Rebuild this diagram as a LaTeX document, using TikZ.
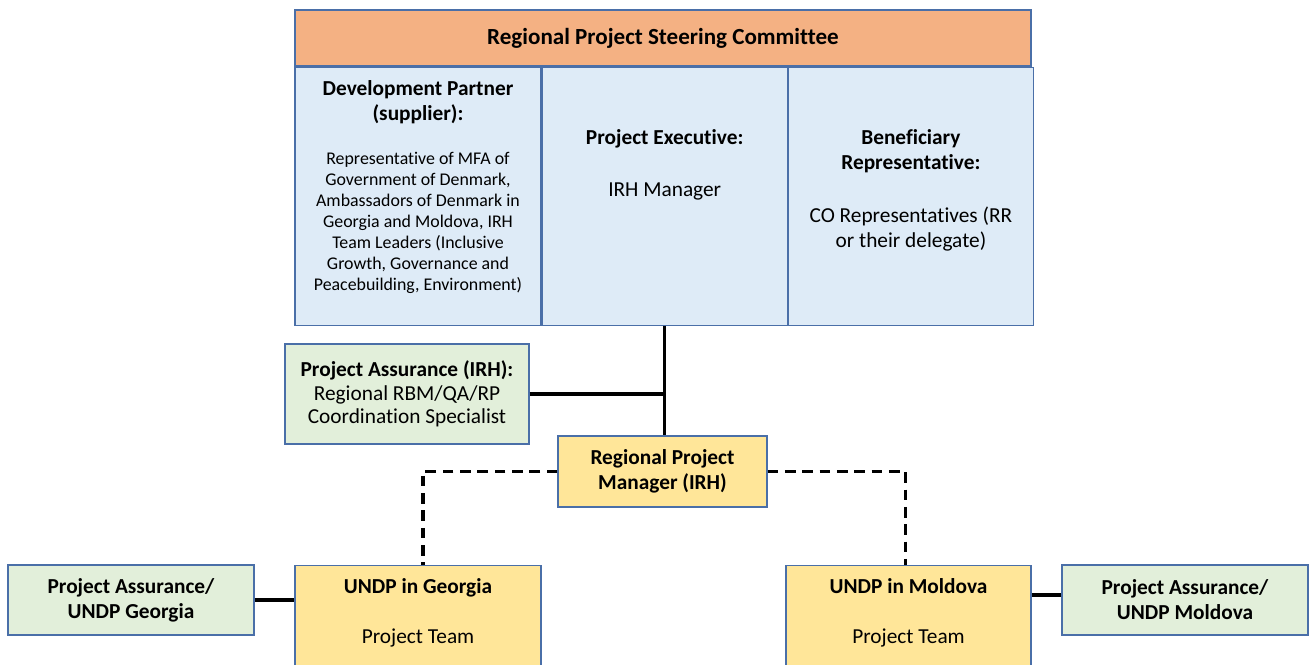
\documentclass[tikz,border=0pt]{standalone}
\usepackage{fontspec}
\setmainfont{Carlito}[Ligatures=NoCommon]
\usetikzlibrary{positioning, calc}

\definecolor{steerorange}{HTML}{F4B183}
\definecolor{cellblue}{HTML}{DEEBF7}
\definecolor{edgeblue}{HTML}{4A6FA8}
\definecolor{assurgreen}{HTML}{E2EFDA}
\definecolor{teamyellow}{HTML}{FFE699}

\newcommand{\bodyfont}{\fontsize{16}{18.75}\selectfont}
\newcommand{\notefont}{\fontsize{13.4}{15.75}\selectfont}

\begin{document}
\begin{tikzpicture}[
        x=0.75pt, y=-0.75pt,
        cell/.style={rectangle, draw=edgeblue, line width=0.9pt, inner sep=0pt},
        board/.style={cell, fill=cellblue, minimum width=183.75pt, minimum height=193.5pt, anchor=north west},
        assurance/.style={cell, fill=assurgreen, align=center, font=\bodyfont},
        office/.style={cell, fill=teamyellow, align=center, font=\bodyfont\bfseries},
        label/.style={inner sep=0pt, align=center, anchor=north, font=\bodyfont},
        link/.style={draw=black, line width=2.4pt},
        dashlink/.style={draw=black, line width=2.4pt, dash pattern=on 8pt off 5pt}
    ]
        \clip (0,0) rectangle (1309,664);

        \node[cell, fill=steerorange, minimum width=552pt, minimum height=42pt, font=\fontsize{17.3}{20}\selectfont\bfseries] (steering) at (663,38) {Regional Project Steering Committee};
        \node[board, minimum width=184.5pt] (dev) at (steering.south west) {};
        \node[board] (exec) at (dev.north east) {};
        \node[board] (ben) at (exec.north east) {};

        \node[label, font=\bodyfont\bfseries] (devhead) at ($(dev.north)+(0,14)$) {Development Partner\\(supplier):};
        \node[label, font=\notefont] (devbody) at ($(dev.north)+(0,85)$) {Representative of MFA of\\Government of Denmark,\\Ambassadors of Denmark in\\Georgia and Moldova, IRH\\Team Leaders (Inclusive\\Growth, Governance and\\Peacebuilding, Environment)};
        \node[label] (exectext) at ($(exec.north)+(0,63)$) {\textbf{Project Executive:}\\[20pt]IRH Manager};
        \node[label] (bentext) at ($(ben.north)+(0,63)$) {\textbf{Beneficiary}\\\textbf{Representative:}\\[21pt]CO Representatives (RR\\or their delegate)};

        \node[assurance, minimum width=183pt, minimum height=75pt, font=\fontsize{16}{17.6}\selectfont] (pairh) at (407,394) {\textbf{Project Assurance (IRH):}\\Regional RBM/QA/RP\\Coordination Specialist};
        \node[office, minimum width=156.75pt, minimum height=53.25pt] (rpm) at (662.5,471.5) {Regional Project\\Manager (IRH)};

        \node[office, minimum width=184.5pt, minimum height=105pt, anchor=north] (georgia) at (418,565) {};
        \node[office, minimum width=183.75pt, minimum height=105pt, anchor=north] (moldova) at (908.5,565) {};
        \node[label] (georgiatext) at ($(georgia.north)+(0,13)$) {\textbf{UNDP in Georgia}\\[18.75pt]Project Team};
        \node[label] (moldovatext) at ($(moldova.north)+(0,13)$) {\textbf{UNDP in Moldova}\\[18.75pt]Project Team};

        \node[assurance, minimum width=184.5pt, minimum height=52.5pt, font=\bodyfont\bfseries] (pageorgia) at (131,600) {Project Assurance/\\UNDP Georgia};
        \node[assurance, minimum width=184.5pt, minimum height=52.5pt, font=\bodyfont\bfseries] (pamoldova) at (1185,600) {Project Assurance/\\UNDP Moldova};

        \draw[link] (exec.south) -- (exec.south |- rpm.north);
        \draw[link] (pairh.east) -- (pairh.east -| exec.south);
        \draw[dashlink] (rpm.west) -| ($(georgia.north)+(5,0)$);
        \draw[dashlink] (rpm.east) -| ($(moldova.north)+(-3,0)$);
        \draw[link] (pageorgia.east) -- (pageorgia.east -| georgia.west);
        \draw[link] ($(pamoldova.west)+(0,-5)$) -- ($(pamoldova.west -| moldova.east)+(0,-5)$);
    \end{tikzpicture}
\end{document}
